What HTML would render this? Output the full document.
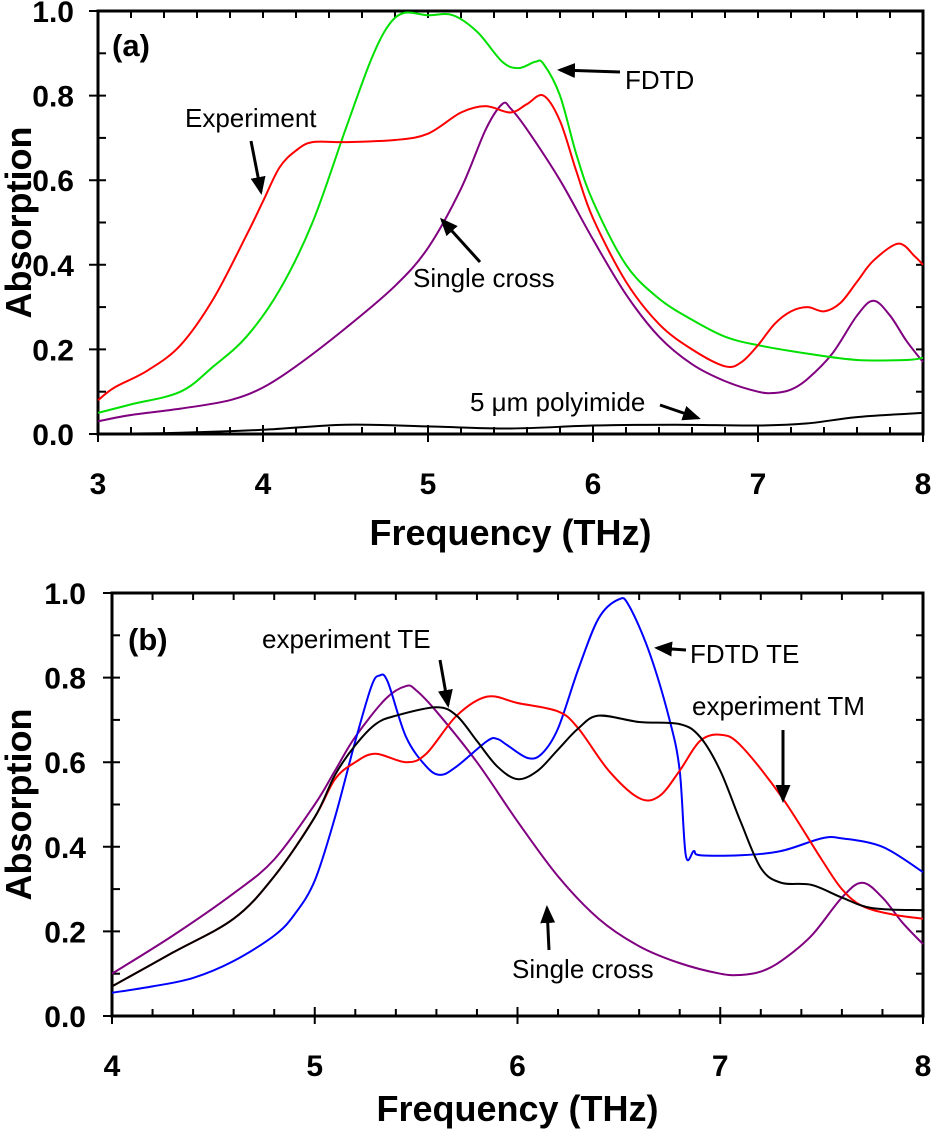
<!DOCTYPE html>
<html><head><meta charset="utf-8"><style>
body{margin:0;background:#fff}
svg{display:block;font-family:"Liberation Sans",Arial,sans-serif}
.tl{font-size:30px;font-weight:bold}
.at{font-size:36px;font-weight:bold}
.pl{font-size:31px;font-weight:bold}
.an{font-size:26px}
</style></head><body>
<svg id="s" width="931" height="1132" viewBox="0 0 931 1132">
<defs><marker id="ah" markerWidth="6" markerHeight="5" refX="5" refY="2.5" orient="auto" markerUnits="strokeWidth"><path d="M0,0 L6,2.5 L0,5 z" fill="#000"/></marker></defs>
</svg>
<script>
// Panel (a) data
const aExpX=[3.0,3.1,3.3,3.5,3.7,3.9,4.0,4.1,4.2,4.3,4.5,4.8,5.0,5.2,5.35,5.5,5.6,5.7,5.8,5.9,6.0,6.2,6.4,6.6,6.8,6.9,7.0,7.1,7.2,7.3,7.4,7.5,7.6,7.7,7.85,7.95,8.0];
const aExpY=[0.08,0.11,0.15,0.21,0.32,0.47,0.55,0.63,0.67,0.69,0.69,0.695,0.71,0.76,0.775,0.76,0.78,0.80,0.74,0.62,0.51,0.36,0.26,0.20,0.16,0.17,0.21,0.26,0.29,0.30,0.29,0.31,0.36,0.41,0.45,0.42,0.40];
const aFdX=[3.0,3.2,3.5,3.7,3.9,4.1,4.3,4.5,4.65,4.75,4.85,5.0,5.15,5.3,5.45,5.55,5.65,5.7,5.8,5.9,6.0,6.2,6.4,6.6,6.8,7.0,7.3,7.6,7.9,8.0];
const aFdY=[0.05,0.07,0.10,0.16,0.23,0.34,0.50,0.72,0.88,0.96,0.995,0.99,0.99,0.95,0.88,0.865,0.88,0.875,0.80,0.66,0.55,0.40,0.32,0.27,0.23,0.21,0.19,0.175,0.175,0.18];
const crossX=[3.0,3.2,3.5,3.8,4.0,4.2,4.5,4.8,5.0,5.2,5.35,5.45,5.5,5.6,5.8,6.0,6.2,6.4,6.6,6.8,7.0,7.1,7.2,7.3,7.45,7.6,7.7,7.8,7.9,8.0];
const crossY=[0.03,0.045,0.06,0.08,0.11,0.16,0.25,0.35,0.44,0.58,0.72,0.78,0.77,0.72,0.60,0.46,0.33,0.23,0.165,0.125,0.10,0.097,0.105,0.13,0.19,0.28,0.315,0.28,0.22,0.17];
const polyX=[3.0,3.5,4.0,4.5,5.0,5.5,6.0,6.5,7.0,7.3,7.6,8.0];
const polyY=[0,0.003,0.01,0.022,0.018,0.013,0.02,0.022,0.02,0.025,0.04,0.05];
// Panel (b) data
const bFdX=[4.0,4.2,4.4,4.6,4.8,4.9,5.0,5.1,5.2,5.28,5.32,5.36,5.45,5.55,5.62,5.7,5.85,5.9,5.95,6.05,6.12,6.2,6.3,6.4,6.5,6.55,6.65,6.75,6.8,6.83,6.87,6.9,7.1,7.3,7.5,7.6,7.8,8.0];
const bFdY=[0.055,0.07,0.09,0.13,0.19,0.24,0.32,0.47,0.65,0.78,0.805,0.79,0.66,0.59,0.57,0.59,0.65,0.655,0.64,0.61,0.62,0.68,0.82,0.94,0.985,0.97,0.86,0.70,0.58,0.38,0.39,0.38,0.38,0.39,0.42,0.42,0.40,0.34];
const bTeX=[4.0,4.3,4.6,4.8,5.0,5.1,5.2,5.3,5.4,5.6,5.7,5.8,5.9,6.0,6.1,6.2,6.3,6.4,6.6,6.8,6.9,7.0,7.1,7.2,7.3,7.45,7.6,7.75,8.0];
const bTeY=[0.07,0.15,0.23,0.33,0.47,0.57,0.64,0.69,0.71,0.73,0.71,0.65,0.59,0.56,0.58,0.63,0.68,0.71,0.695,0.69,0.66,0.58,0.46,0.35,0.315,0.31,0.28,0.255,0.25];
const bTmX=[4.0,4.3,4.6,4.8,5.0,5.1,5.2,5.3,5.45,5.55,5.7,5.85,6.0,6.2,6.3,6.45,6.6,6.7,6.8,6.9,7.0,7.1,7.3,7.5,7.6,7.7,7.85,8.0];
const bTmY=[0.07,0.15,0.23,0.33,0.47,0.56,0.60,0.62,0.60,0.62,0.71,0.755,0.74,0.72,0.68,0.58,0.515,0.52,0.58,0.65,0.665,0.64,0.52,0.37,0.30,0.26,0.24,0.23];
const bCrX=[4.0,4.3,4.6,4.8,5.0,5.1,5.2,5.35,5.45,5.5,5.6,5.8,6.0,6.2,6.4,6.6,6.8,7.0,7.1,7.2,7.3,7.45,7.6,7.7,7.8,7.9,8.0];
const bCrY=[0.10,0.19,0.29,0.37,0.50,0.58,0.66,0.75,0.78,0.77,0.72,0.60,0.46,0.33,0.23,0.165,0.125,0.10,0.097,0.105,0.13,0.19,0.28,0.315,0.28,0.22,0.17];
const yTicks=["0.0","0.2","0.4","0.6","0.8","1.0"];
const aXTicks=["3","4","5","6","7","8"];
const bXTicks=["4","5","6","7","8"];

const S=document.getElementById('s');const NS='http://www.w3.org/2000/svg';
function mk(t,a,txt){const e=document.createElementNS(NS,t);for(const k in a)e.setAttribute(k,a[k]);if(txt!=null)e.textContent=txt;S.appendChild(e);return e;}
function panel(P,xt,name){
 const X=v=>P.l+(v-P.x0)/(P.x1-P.x0)*(P.r-P.l), Y=v=>P.b-v*(P.b-P.t);
 P.X=X;P.Y=Y;
 let f=mk('rect',{x:P.l,y:P.t,width:P.r-P.l,height:P.b-P.t,fill:'none',stroke:'#000','stroke-width':3});
 
 for(let v=P.x0;v<=P.x1+1e-9;v+=0.2){const x=X(v);const maj=Math.abs(v-Math.round(v))<1e-6;
  let t=mk('line',{x1:x,x2:x,y1:P.b-(maj?9:7),y2:P.b+(maj?8:0),stroke:'#000','stroke-width':2});
  
  t=mk('line',{x1:x,x2:x,y1:P.t,y2:P.t+7,stroke:'#000','stroke-width':2});
  }
 xt.forEach(s=>{const t=mk('text',{x:X(+s),y:P.b+60,'text-anchor':'middle',class:'tl'},s);
  });
 for(let i=0;i<=10;i++){const y=Y(i/10);
  let t=mk('line',{x1:P.l-(i%2?0:9),x2:P.l+8,y1:y,y2:y,stroke:'#000','stroke-width':2});
  
  t=mk('line',{x1:P.r-7,x2:P.r,y1:y,y2:y,stroke:'#000','stroke-width':2});
  }
 yTicks.forEach(s=>{const t=mk('text',{x:P.l-P.yl,y:Y(+s)+11,'text-anchor':'end',class:'tl'},s);
  });
 let t=mk('text',{x:0,y:0,'text-anchor':'middle',class:'at',transform:`translate(31,${(P.t+P.b)/2}) rotate(-90)`},'Absorption');
 
 t=mk('text',{x:(P.l+P.r)/2,y:P.b+P.ty,'text-anchor':'middle',class:'at'},'Frequency (THz)');
 
}
function curve(P,xs,ys,col,name){
 const p=xs.map((x,i)=>[P.X(x),P.Y(ys[i])]);let d='M'+p[0][0]+','+p[0][1];
 for(let i=0;i<p.length-1;i++){const a=p[Math.max(0,i-1)],b=p[i],c=p[i+1],e=p[Math.min(p.length-1,i+2)];
  d+=` C${b[0]+(c[0]-a[0])/6},${b[1]+(c[1]-a[1])/6} ${c[0]-(e[0]-b[0])/6},${c[1]-(e[1]-b[1])/6} ${c[0]},${c[1]}`;}
 const e=mk('path',{d:d,fill:'none',stroke:col,'stroke-width':2});
 
}
function label(x,y,s,name,cls){const t=mk('text',{x:x,y:y,class:cls||'an'},s);return t;}
function arrow(x1,y1,x2,y2,name){const e=mk('line',{x1:x1,y1:y1,x2:x2,y2:y2,stroke:'#000','stroke-width':3,'marker-end':'url(#ah)'});}

const A={l:98,r:923,t:11,b:434,x0:3,x1:8,yl:24,ty:111};
panel(A,aXTicks,'panel-a');
curve(A,polyX,polyY,'#000','polyimide-line');
curve(A,crossX,crossY,'#800080','single-cross-line-a');
curve(A,aFdX,aFdY,'#00e000','fdtd-line');
curve(A,aExpX,aExpY,'#ff0000','experiment-line');
label(112,56,'(a)','panel-a-label','pl');
label(185,127,'Experiment','experiment-annotation');arrow(251,141,261,192,'experiment-arrow');
label(625,89,'FDTD','fdtd-annotation');arrow(620,72,560,70,'fdtd-arrow');
label(413,287,'Single cross','single-cross-annotation-a');arrow(480,262,442,220,'single-cross-arrow-a');
label(470,411,'5 \u03bcm polyimide','polyimide-annotation');arrow(660,405,698,418,'polyimide-arrow');

const B={l:112,r:923,t:593,b:1016,x0:4,x1:8,yl:26,ty:105};
panel(B,bXTicks,'panel-b');
curve(B,bCrX,bCrY,'#800080','single-cross-line-b');
curve(B,bFdX,bFdY,'#0000ff','fdtd-te-line');
curve(B,bTmX,bTmY,'#ff0000','experiment-tm-line');
curve(B,bTeX,bTeY,'#000','experiment-te-line');
label(128,650,'(b)','panel-b-label','pl');
label(262,648,'experiment TE','experiment-te-annotation');arrow(440,660,448,705,'experiment-te-arrow');
label(690,663,'FDTD TE','fdtd-te-annotation');arrow(686,650,657,648,'fdtd-te-arrow');
label(692,715,'experiment TM','experiment-tm-annotation');arrow(783,730,783,800,'experiment-tm-arrow');
label(512,978,'Single cross','single-cross-annotation-b');arrow(549,950,547,908,'single-cross-arrow-b');
</script>
</body></html>
